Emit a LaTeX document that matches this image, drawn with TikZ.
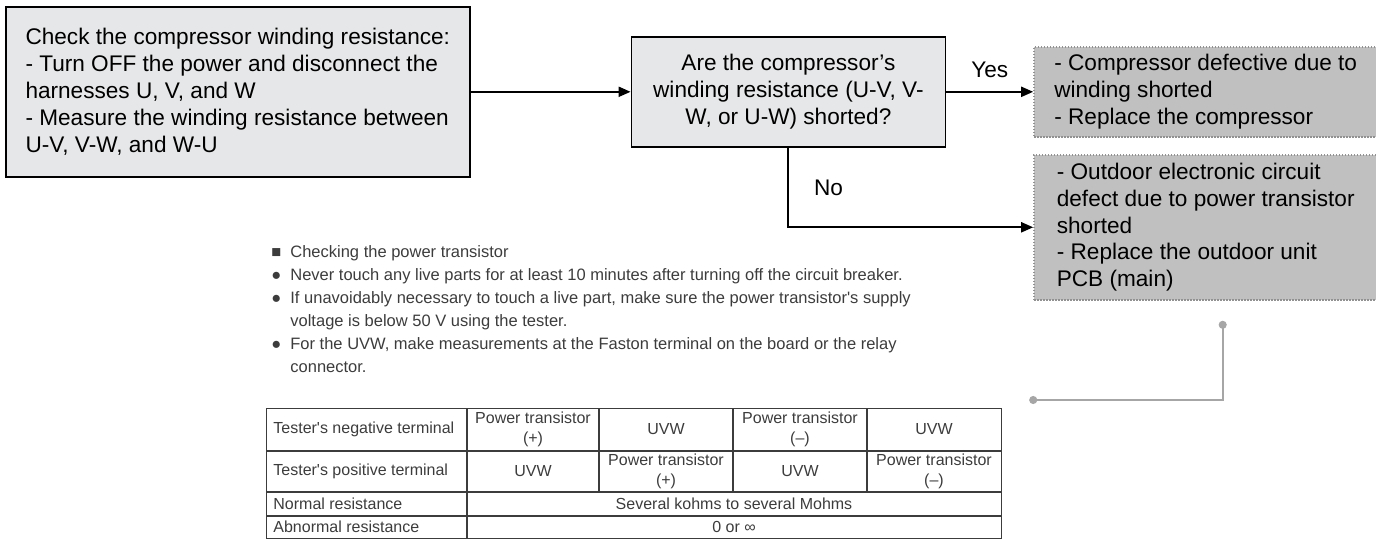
\documentclass[tikz,border=0pt]{standalone}
\usepackage{fontspec}
\setmainfont{Liberation Sans}
\usepackage{xcolor}
\usetikzlibrary{arrows.meta, positioning}
\definecolor{boxLight}{RGB}{230, 231, 232}
\definecolor{boxDark}{RGB}{192, 192, 192}
\definecolor{dotEdge}{RGB}{145, 145, 145}
\definecolor{pinGray}{RGB}{166, 166, 166}
\definecolor{scanInk}{RGB}{60, 60, 60}

\begin{document}
\begin{tikzpicture}[x=0.5pt, y=-0.5pt, node distance=8pt,
    stepbox/.style={rectangle, draw=black, line width=0.8pt, fill=boxLight, inner sep=0pt, font=\fontsize{11.3}{13.4}\selectfont},
    result/.style={rectangle, draw=dotEdge, line width=1pt, dash pattern=on 0.8pt off 0.7pt, fill=boxDark, inner sep=0pt, align=left, minimum width=171.5pt, font=\fontsize{11.3}{13.4}\selectfont},
    flow/.style={-{Triangle[length=6pt, width=5pt]}, line width=1pt},
    pin/.style={{Circle[length=4pt]}-{Circle[length=4pt]}, draw=pinGray, line width=0.8pt},
    label/.style={font=\fontsize{11.3}{13.4}\selectfont},
    cell/.style={inner sep=0pt, align=center, text=scanInk, font=\fontsize{8}{10}\selectfont},
    grid/.style={draw=scanInk, line width=0.6pt}]

    \useasboundingbox (0,0) rectangle (1376,540);

    \node[stepbox, align=left, minimum width=232pt, minimum height=85pt, anchor=north west] (check) at (5,6)
        {Check the compressor winding resistance:\\- Turn OFF the power and disconnect the\\harnesses U, V, and W\\- Measure the winding resistance between\\U-V, V-W, and W-U};
    \node[stepbox, align=center, minimum width=157pt, minimum height=55pt, right=80pt of check] (shorted)
        {Are the compressor’s\\winding resistance (U-V, V-\\W, or U-W) shorted?};
    \node[result, minimum height=45pt, right=43.5pt of shorted] (compfault)
        {- Compressor defective due to\\winding shorted\\- Replace the compressor};
    \node[result, minimum height=72.5pt, below=8pt of compfault] (pcbfault)
        {- Outdoor electronic circuit\\defect due to power transistor\\shorted\\- Replace the outdoor unit\\PCB (main)};

    \draw[flow] (check.east) -- (shorted.west);
    \draw[flow] (shorted.east) -- node[label, above=3pt] {Yes} (compfault.west);
    \draw[flow] (shorted.south) |- node[label, pos=0.25, right=9pt] {No} (pcbfault.west);

    \node[anchor=north west, inner sep=0pt, text=scanInk, font=\fontsize{8.25}{11.5}\selectfont] (notes) at (271,241)
        {\begin{tabular}{@{}p{9.5pt}@{}l@{}}
        ■ & Checking the power transistor\\
        ● & Never touch any live parts for at least 10 minutes after turning off the circuit breaker.\\
        ● & If unavoidably necessary to touch a live part, make sure the power transistor\textquotesingle s supply\\
          & voltage is below 50 V using the tester.\\
        ● & For the UVW, make measurements at the Faston terminal on the board or the relay\\
          & connector.
        \end{tabular}};

    \node[grid, rectangle, minimum width=367.5pt, minimum height=65pt, inner sep=0pt, anchor=north west] (tester) at (266,408) {};
    \foreach \y in {451,492,516}
        \draw[grid] (266,\y) -- (1001,\y);
    \draw[grid] (467,408) -- (467,538);
    \foreach \x in {599,733,867}
        \draw[grid] (\x,408) -- (\x,492);

    \node[cell, anchor=west] at (273,429.5) {Tester\textquotesingle s negative terminal};
    \node[cell, anchor=west] at (273,471.5) {Tester\textquotesingle s positive terminal};
    \node[cell, anchor=west] at (273,504) {Normal resistance};
    \node[cell, anchor=west] at (273,527) {Abnormal resistance};
    \foreach \x/\t in {533/{Power transistor\\(+)}, 666/UVW, 800/{Power transistor\\(–)}, 934/UVW}
        \node[cell] at (\x,429.5) {\t};
    \foreach \x/\t in {533/UVW, 666/{Power transistor\\(+)}, 800/UVW, 934/{Power transistor\\(–)}}
        \node[cell] at (\x,471.5) {\t};
    \node[cell] at (734,504) {Several kohms to several Mohms};
    \node[cell] at (734,527) {0 or ∞};

    \coordinate (pinTop) at ([xshift=8.5pt, yshift=-10pt]pcbfault.south);
    \coordinate (pinEnd) at ([xshift=13.5pt, yshift=4pt]tester.north east);
    \draw[pin] (pinTop) |- (pinEnd);

\end{tikzpicture}
\end{document}
